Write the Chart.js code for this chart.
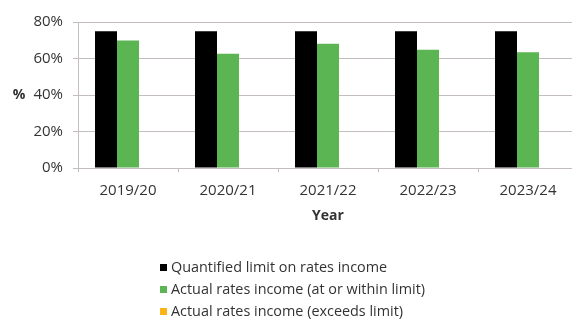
<!DOCTYPE html>
<html>
<head>
<meta charset="utf-8">
<script src="https://cdn.jsdelivr.net/npm/chart.js@4/dist/chart.umd.min.js"></script>
<style>
  html, body { margin: 0; padding: 0; background: #fff; overflow: hidden; }
  #wrap { position: relative; width: 580px; height: 329px; }
  #legend { position: absolute; left: 160px; top: 256px; font-family: "Open Sans", sans-serif;
            font-size: 14.4px; color: #333333; }
  #legend .row { height: 22px; line-height: 22px; white-space: nowrap; display: flex; align-items: center; }
  #legend .sw { width: 7px; height: 7px; margin-right: 4px; flex: none; }
</style>
</head>
<body>
<div id="wrap">
  <canvas id="c" width="580" height="329"></canvas>
  <div id="legend"></div>
</div>
<script>
// Rates income against the quantified limit, by financial year (%)
const years = ['2019/20', '2020/21', '2021/22', '2022/23', '2023/24'];
const quantifiedLimit = [75, 75, 75, 75, 75];
const actualWithinLimit = [69.8, 62.6, 68.1, 64.8, 63.4];
const actualExceedsLimit = [null, null, null, null, null];
const yTicks = [0, 20, 40, 60, 80];

const seriesNames = [
  'Quantified limit on rates income',
  'Actual rates income (at or within limit)',
  'Actual rates income (exceeds limit)'
];
const seriesColors = ['#000000', '#5bb552', '#fbb417'];

const gridColor = '#c4bdbd';
const textColor = '#333333';
const font = 'Open Sans';

// Horizontal "%" label beside the value axis
const percentLabel = {
  id: 'percentLabel',
  afterDraw(chart) {
    const { ctx, chartArea } = chart;
    ctx.save();
    ctx.font = 'bold 14px "' + font + '"';
    ctx.fillStyle = textColor;
    ctx.textAlign = 'center';
    ctx.textBaseline = 'middle';
    ctx.fillText('%', 19, (chartArea.top + chartArea.bottom) / 2);
    ctx.restore();
  }
};

const chart = new Chart(document.getElementById('c'), {
  type: 'bar',
  data: {
    labels: years,
    datasets: [quantifiedLimit, actualWithinLimit, actualExceedsLimit].map((d, i) => ({
      label: seriesNames[i],
      data: d,
      backgroundColor: seriesColors[i],
      borderWidth: 0,
      categoryPercentage: 0.66,
      barPercentage: 1.0
    }))
  },
  options: {
    responsive: false,
    animation: false,
    layout: { padding: { top: 22, right: 2, bottom: 105, left: 0 } },
    plugins: { legend: { display: false }, tooltip: { enabled: false } },
    scales: {
      x: {
        grid: { display: true, drawOnChartArea: false, color: gridColor, tickLength: 4, offset: true },
        border: { display: true, color: gridColor, width: 1 },
        ticks: { color: textColor, font: { family: font, size: 15 }, padding: 10, maxRotation: 0 },
        title: { display: true, text: 'Year', color: textColor,
                 font: { family: font, size: 14, weight: 'bold' }, padding: { top: 0, bottom: 0 } },
        afterFit(scale) { scale.height = 56; }
      },
      y: {
        min: 0, max: 80,
        afterBuildTicks(scale) { scale.ticks = yTicks.map(v => ({ value: v })); },
        grid: { color: gridColor, tickLength: 5 },
        border: { display: true, color: gridColor, width: 1 },
        ticks: { color: textColor, font: { family: font, size: 15 }, padding: 10,
                 callback: v => v + '%' },
        afterFit(scale) { scale.width = 78; }
      }
    }
  },
  plugins: [percentLabel]
});

// Legend list, one entry per line, built from the chart's datasets
const legendEl = document.getElementById('legend');
chart.data.datasets.forEach(ds => {
  const row = document.createElement('div');
  row.className = 'row';
  const sw = document.createElement('span');
  sw.className = 'sw';
  sw.style.background = ds.backgroundColor;
  const tx = document.createElement('span');
  tx.textContent = ds.label;
  row.appendChild(sw);
  row.appendChild(tx);
  legendEl.appendChild(row);
});
</script>
</body>
</html>
